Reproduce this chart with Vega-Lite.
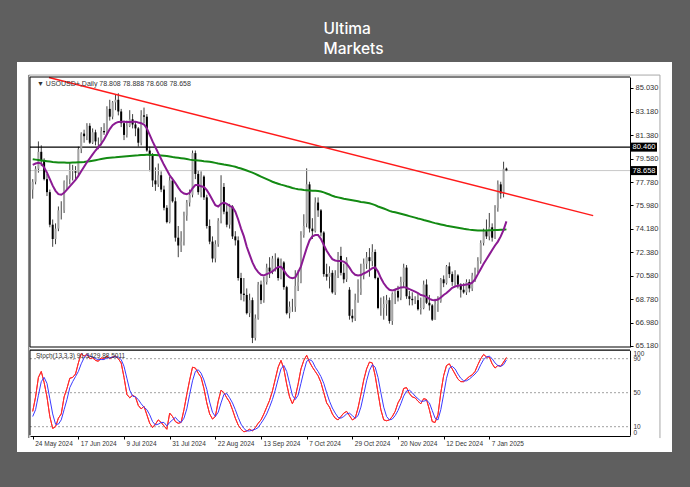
{
"$schema": "https://vega.github.io/schema/vega-lite/v6.json",
"width": 655, "height": 390,
"autosize": {"type": "none"},
"padding": {"left": 17, "top": 62, "right": 18, "bottom": 35},
"background": "#5f5f5f",
"title": {"text": ["Ultima", "Markets"], "color": "#ffffff", "fontSize": 15.5, "font": "Inter", "fontWeight": 500, "anchor": "middle", "align": "left", "dx": -21, "baseline": "bottom", "offset": -10, "lineHeight": 20},
"config": {
  "view": {"fill": "#ffffff", "stroke": null},
  "axis": {"labelFont": "Liberation Sans Narrow, Liberation Sans, sans-serif", "labelColor": "#333333", "grid": false, "domainColor": "#000000", "tickColor": "#000000"},
  "text": {"font": "Liberation Sans Narrow, Liberation Sans, sans-serif"}
},
"datasets": {
  "bars": [
{"i":0,"d":"2024-05-24","o":77.2,"h":78.0,"l":76.5,"c":77.8,"m1":79.1,"m2":79.53,"k":28,"sd":22},
{"i":1,"d":"2024-05-27","o":77.8,"h":79.0,"l":77.6,"c":78.8,"m1":79.2,"m2":79.5,"k":45,"sd":30},
{"i":2,"d":"2024-05-28","o":78.8,"h":80.9,"l":78.5,"c":80.1,"m1":79.25,"m2":79.47,"k":68,"sd":47},
{"i":3,"d":"2024-05-29","o":80.1,"h":80.6,"l":79.0,"c":79.4,"m1":79.2,"m2":79.44,"k":75,"sd":63},
{"i":4,"d":"2024-05-30","o":79.4,"h":79.6,"l":77.9,"c":78.0,"m1":78.9,"m2":79.41,"k":62,"sd":68},
{"i":5,"d":"2024-05-31","o":78.0,"h":78.4,"l":76.7,"c":77.0,"m1":78.5,"m2":79.38,"k":45,"sd":61},
{"i":6,"d":"2024-06-03","o":77.0,"h":77.2,"l":74.3,"c":74.5,"m1":78.0,"m2":79.35,"k":22,"sd":43},
{"i":7,"d":"2024-06-04","o":74.5,"h":74.9,"l":72.8,"c":73.4,"m1":77.5,"m2":79.32,"k":8,"sd":25},
{"i":8,"d":"2024-06-05","o":73.4,"h":74.6,"l":73.0,"c":74.2,"m1":77.1,"m2":79.3,"k":10,"sd":13},
{"i":9,"d":"2024-06-06","o":74.2,"h":75.9,"l":74.0,"c":75.6,"m1":76.85,"m2":79.28,"k":20,"sd":13},
{"i":10,"d":"2024-06-07","o":75.6,"h":76.3,"l":74.9,"c":75.6,"m1":76.8,"m2":79.27,"k":25,"sd":18},
{"i":11,"d":"2024-06-10","o":75.6,"h":77.9,"l":75.4,"c":77.8,"m1":76.95,"m2":79.27,"k":45,"sd":30},
{"i":12,"d":"2024-06-11","o":77.8,"h":78.3,"l":77.2,"c":78.0,"m1":77.2,"m2":79.26,"k":55,"sd":42},
{"i":13,"d":"2024-06-12","o":78.0,"h":79.3,"l":77.6,"c":78.6,"m1":77.45,"m2":79.26,"k":67,"sd":56},
{"i":14,"d":"2024-06-13","o":78.6,"h":79.1,"l":77.9,"c":78.6,"m1":77.7,"m2":79.27,"k":68,"sd":63},
{"i":15,"d":"2024-06-14","o":78.6,"h":79.0,"l":78.0,"c":78.5,"m1":77.95,"m2":79.28,"k":72,"sd":69},
{"i":16,"d":"2024-06-17","o":78.5,"h":80.5,"l":78.2,"c":80.3,"m1":78.25,"m2":79.29,"k":85,"sd":75},
{"i":17,"d":"2024-06-18","o":80.3,"h":81.6,"l":80.0,"c":81.5,"m1":78.6,"m2":79.3,"k":96,"sd":84},
{"i":18,"d":"2024-06-19","o":81.5,"h":81.8,"l":80.8,"c":81.3,"m1":78.95,"m2":79.32,"k":93,"sd":91},
{"i":19,"d":"2024-06-20","o":81.3,"h":82.3,"l":81.0,"c":82.1,"m1":79.3,"m2":79.35,"k":95,"sd":95},
{"i":20,"d":"2024-06-21","o":82.1,"h":82.3,"l":80.7,"c":80.8,"m1":79.6,"m2":79.38,"k":90,"sd":93},
{"i":21,"d":"2024-06-24","o":80.8,"h":81.9,"l":80.7,"c":81.6,"m1":79.9,"m2":79.42,"k":91,"sd":92},
{"i":22,"d":"2024-06-25","o":81.6,"h":81.8,"l":80.6,"c":80.9,"m1":80.2,"m2":79.46,"k":88,"sd":90},
{"i":23,"d":"2024-06-26","o":80.9,"h":81.2,"l":80.3,"c":80.9,"m1":80.45,"m2":79.5,"k":87,"sd":89},
{"i":24,"d":"2024-06-27","o":80.9,"h":82.0,"l":80.6,"c":81.7,"m1":80.7,"m2":79.54,"k":91,"sd":89},
{"i":25,"d":"2024-06-28","o":81.7,"h":82.3,"l":81.4,"c":81.6,"m1":81.05,"m2":79.58,"k":90,"sd":89},
{"i":26,"d":"2024-07-01","o":81.6,"h":83.6,"l":81.4,"c":83.4,"m1":81.45,"m2":79.62,"k":93,"sd":91},
{"i":27,"d":"2024-07-02","o":83.4,"h":84.1,"l":82.5,"c":82.8,"m1":81.85,"m2":79.65,"k":90,"sd":91},
{"i":28,"d":"2024-07-03","o":82.8,"h":84.0,"l":82.6,"c":83.9,"m1":82.15,"m2":79.67,"k":92,"sd":92},
{"i":29,"d":"2024-07-04","o":83.9,"h":84.5,"l":83.3,"c":84.1,"m1":82.3,"m2":79.68,"k":93,"sd":92},
{"i":30,"d":"2024-07-05","o":84.1,"h":84.6,"l":82.9,"c":83.2,"m1":82.4,"m2":79.7,"k":90,"sd":92},
{"i":31,"d":"2024-07-08","o":83.2,"h":83.4,"l":82.0,"c":82.3,"m1":82.42,"m2":79.72,"k":85,"sd":89},
{"i":32,"d":"2024-07-09","o":82.3,"h":82.5,"l":81.0,"c":81.4,"m1":82.42,"m2":79.74,"k":68,"sd":81},
{"i":33,"d":"2024-07-10","o":81.4,"h":82.5,"l":81.2,"c":82.1,"m1":82.4,"m2":79.76,"k":48,"sd":67},
{"i":34,"d":"2024-07-11","o":82.1,"h":83.3,"l":82.0,"c":82.6,"m1":82.4,"m2":79.78,"k":44,"sd":53},
{"i":35,"d":"2024-07-12","o":82.6,"h":83.0,"l":81.9,"c":82.2,"m1":82.42,"m2":79.8,"k":47,"sd":46},
{"i":36,"d":"2024-07-15","o":82.2,"h":82.4,"l":81.3,"c":81.9,"m1":82.42,"m2":79.82,"k":45,"sd":45},
{"i":37,"d":"2024-07-16","o":81.9,"h":82.0,"l":80.5,"c":80.8,"m1":82.35,"m2":79.83,"k":35,"sd":42},
{"i":38,"d":"2024-07-17","o":80.8,"h":83.3,"l":80.6,"c":82.9,"m1":82.3,"m2":79.85,"k":31,"sd":37},
{"i":39,"d":"2024-07-18","o":82.9,"h":83.5,"l":82.3,"c":82.8,"m1":82.2,"m2":79.86,"k":34,"sd":33},
{"i":40,"d":"2024-07-19","o":82.8,"h":83.0,"l":80.1,"c":80.2,"m1":81.9,"m2":79.87,"k":24,"sd":30},
{"i":41,"d":"2024-07-22","o":80.2,"h":80.5,"l":78.6,"c":79.8,"m1":81.4,"m2":79.87,"k":14,"sd":24},
{"i":42,"d":"2024-07-23","o":79.8,"h":80.0,"l":77.4,"c":77.9,"m1":80.9,"m2":79.86,"k":9,"sd":16},
{"i":43,"d":"2024-07-24","o":77.9,"h":78.9,"l":77.1,"c":77.6,"m1":80.45,"m2":79.85,"k":13,"sd":12},
{"i":44,"d":"2024-07-25","o":77.6,"h":79.2,"l":77.4,"c":78.3,"m1":80.0,"m2":79.84,"k":18,"sd":13},
{"i":45,"d":"2024-07-26","o":78.3,"h":78.6,"l":77.0,"c":77.2,"m1":79.55,"m2":79.82,"k":15,"sd":15},
{"i":46,"d":"2024-07-29","o":77.2,"h":77.5,"l":75.6,"c":75.8,"m1":79.1,"m2":79.8,"k":11,"sd":15},
{"i":47,"d":"2024-07-30","o":75.8,"h":76.0,"l":74.6,"c":74.7,"m1":78.7,"m2":79.78,"k":7,"sd":11},
{"i":48,"d":"2024-07-31","o":74.7,"h":78.2,"l":74.6,"c":77.9,"m1":78.3,"m2":79.74,"k":26,"sd":15},
{"i":49,"d":"2024-08-01","o":77.9,"h":78.1,"l":76.2,"c":76.3,"m1":78.0,"m2":79.7,"k":22,"sd":18},
{"i":50,"d":"2024-08-02","o":76.3,"h":76.6,"l":73.2,"c":73.5,"m1":77.7,"m2":79.67,"k":16,"sd":21},
{"i":51,"d":"2024-08-05","o":73.5,"h":74.4,"l":72.0,"c":72.9,"m1":77.35,"m2":79.64,"k":14,"sd":17},
{"i":52,"d":"2024-08-06","o":72.9,"h":74.0,"l":72.4,"c":73.2,"m1":77.05,"m2":79.61,"k":15,"sd":15},
{"i":53,"d":"2024-08-07","o":73.2,"h":75.5,"l":72.9,"c":75.2,"m1":76.9,"m2":79.58,"k":30,"sd":20},
{"i":54,"d":"2024-08-08","o":75.2,"h":76.4,"l":74.8,"c":76.2,"m1":76.85,"m2":79.55,"k":48,"sd":31},
{"i":55,"d":"2024-08-09","o":76.2,"h":77.2,"l":75.9,"c":76.8,"m1":76.95,"m2":79.5,"k":65,"sd":48},
{"i":56,"d":"2024-08-12","o":76.8,"h":80.2,"l":76.6,"c":80.0,"m1":77.3,"m2":79.47,"k":80,"sd":64},
{"i":57,"d":"2024-08-13","o":80.0,"h":80.2,"l":78.0,"c":78.4,"m1":77.55,"m2":79.45,"k":79,"sd":75},
{"i":58,"d":"2024-08-14","o":78.4,"h":78.7,"l":76.8,"c":77.0,"m1":77.55,"m2":79.43,"k":73,"sd":77},
{"i":59,"d":"2024-08-15","o":77.0,"h":78.6,"l":76.6,"c":78.2,"m1":77.45,"m2":79.41,"k":68,"sd":73},
{"i":60,"d":"2024-08-16","o":78.2,"h":78.3,"l":76.4,"c":76.6,"m1":77.4,"m2":79.38,"k":55,"sd":65},
{"i":61,"d":"2024-08-19","o":76.6,"h":76.8,"l":74.2,"c":74.4,"m1":77.15,"m2":79.36,"k":38,"sd":54},
{"i":62,"d":"2024-08-20","o":74.4,"h":74.9,"l":73.0,"c":73.2,"m1":76.8,"m2":79.34,"k":25,"sd":39},
{"i":63,"d":"2024-08-21","o":73.2,"h":73.6,"l":71.6,"c":71.9,"m1":76.4,"m2":79.3,"k":19,"sd":27},
{"i":64,"d":"2024-08-22","o":71.9,"h":73.3,"l":71.6,"c":73.0,"m1":76.0,"m2":79.25,"k":22,"sd":22},
{"i":65,"d":"2024-08-23","o":73.0,"h":75.0,"l":72.8,"c":74.8,"m1":75.9,"m2":79.2,"k":40,"sd":27},
{"i":66,"d":"2024-08-26","o":74.8,"h":78.3,"l":74.6,"c":77.4,"m1":76.1,"m2":79.16,"k":53,"sd":38},
{"i":67,"d":"2024-08-27","o":77.4,"h":77.7,"l":75.3,"c":75.5,"m1":76.2,"m2":79.12,"k":50,"sd":48},
{"i":68,"d":"2024-08-28","o":75.5,"h":76.0,"l":74.3,"c":74.5,"m1":76.1,"m2":79.09,"k":44,"sd":49},
{"i":69,"d":"2024-08-29","o":74.5,"h":76.1,"l":74.2,"c":75.9,"m1":75.95,"m2":79.05,"k":39,"sd":44},
{"i":70,"d":"2024-08-30","o":75.9,"h":76.0,"l":73.4,"c":73.6,"m1":75.85,"m2":79.0,"k":30,"sd":38},
{"i":71,"d":"2024-09-02","o":73.6,"h":74.0,"l":72.9,"c":73.3,"m1":75.5,"m2":78.95,"k":20,"sd":30},
{"i":72,"d":"2024-09-03","o":73.3,"h":73.6,"l":70.2,"c":70.4,"m1":74.9,"m2":78.88,"k":12,"sd":21},
{"i":73,"d":"2024-09-04","o":70.4,"h":70.8,"l":68.7,"c":69.2,"m1":74.2,"m2":78.82,"k":7,"sd":13},
{"i":74,"d":"2024-09-05","o":69.2,"h":70.4,"l":68.6,"c":69.1,"m1":73.6,"m2":78.74,"k":4,"sd":8},
{"i":75,"d":"2024-09-06","o":69.1,"h":69.6,"l":67.6,"c":67.7,"m1":72.8,"m2":78.66,"k":5,"sd":5},
{"i":76,"d":"2024-09-09","o":67.7,"h":69.2,"l":67.4,"c":68.7,"m1":72.2,"m2":78.58,"k":7,"sd":5},
{"i":77,"d":"2024-09-10","o":68.7,"h":68.9,"l":65.4,"c":65.8,"m1":71.6,"m2":78.5,"k":5,"sd":6},
{"i":78,"d":"2024-09-11","o":65.8,"h":67.6,"l":65.6,"c":67.3,"m1":71.15,"m2":78.4,"k":9,"sd":7},
{"i":79,"d":"2024-09-12","o":67.3,"h":70.1,"l":67.2,"c":69.9,"m1":70.85,"m2":78.3,"k":14,"sd":9},
{"i":80,"d":"2024-09-13","o":69.9,"h":70.2,"l":68.4,"c":68.7,"m1":70.65,"m2":78.2,"k":18,"sd":14},
{"i":81,"d":"2024-09-16","o":68.7,"h":70.5,"l":68.5,"c":70.1,"m1":70.6,"m2":78.1,"k":25,"sd":19},
{"i":82,"d":"2024-09-17","o":70.1,"h":71.5,"l":69.9,"c":71.2,"m1":70.7,"m2":78.0,"k":33,"sd":25},
{"i":83,"d":"2024-09-18","o":71.2,"h":72.0,"l":70.4,"c":70.9,"m1":70.8,"m2":77.9,"k":41,"sd":33},
{"i":84,"d":"2024-09-19","o":70.9,"h":72.1,"l":70.7,"c":71.9,"m1":70.9,"m2":77.8,"k":52,"sd":42},
{"i":85,"d":"2024-09-20","o":71.9,"h":72.3,"l":70.9,"c":71.9,"m1":71.1,"m2":77.72,"k":66,"sd":53},
{"i":86,"d":"2024-09-23","o":71.9,"h":72.0,"l":70.2,"c":70.4,"m1":71.25,"m2":77.65,"k":80,"sd":66},
{"i":87,"d":"2024-09-24","o":70.4,"h":71.9,"l":70.3,"c":71.6,"m1":71.27,"m2":77.58,"k":88,"sd":78},
{"i":88,"d":"2024-09-25","o":71.6,"h":71.7,"l":69.5,"c":69.7,"m1":71.0,"m2":77.52,"k":78,"sd":82},
{"i":89,"d":"2024-09-26","o":69.7,"h":69.8,"l":67.6,"c":67.7,"m1":70.65,"m2":77.45,"k":60,"sd":75},
{"i":90,"d":"2024-09-27","o":67.7,"h":68.6,"l":67.3,"c":68.2,"m1":70.45,"m2":77.4,"k":45,"sd":61},
{"i":91,"d":"2024-09-30","o":68.2,"h":68.8,"l":67.8,"c":68.2,"m1":70.38,"m2":77.32,"k":37,"sd":47},
{"i":92,"d":"2024-10-01","o":68.2,"h":71.0,"l":67.8,"c":69.8,"m1":70.45,"m2":77.27,"k":45,"sd":42},
{"i":93,"d":"2024-10-02","o":69.8,"h":71.0,"l":69.4,"c":70.1,"m1":70.85,"m2":77.23,"k":60,"sd":47},
{"i":94,"d":"2024-10-03","o":70.1,"h":74.0,"l":70.0,"c":73.7,"m1":71.3,"m2":77.2,"k":78,"sd":61},
{"i":95,"d":"2024-10-04","o":73.7,"h":75.3,"l":73.5,"c":74.4,"m1":72.0,"m2":77.17,"k":88,"sd":75},
{"i":96,"d":"2024-10-07","o":74.6,"h":78.83,"l":74.3,"c":77.6,"m1":72.7,"m2":77.15,"k":94,"sd":87},
{"i":97,"d":"2024-10-08","o":77.6,"h":77.8,"l":73.9,"c":74.2,"m1":73.3,"m2":77.13,"k":86,"sd":89},
{"i":98,"d":"2024-10-09","o":74.2,"h":75.0,"l":73.4,"c":74.0,"m1":73.6,"m2":77.11,"k":80,"sd":87},
{"i":99,"d":"2024-10-10","o":74.0,"h":76.6,"l":73.9,"c":76.2,"m1":73.7,"m2":77.1,"k":75,"sd":80},
{"i":100,"d":"2024-10-11","o":76.2,"h":76.6,"l":75.1,"c":75.6,"m1":73.7,"m2":77.09,"k":70,"sd":75},
{"i":101,"d":"2024-10-14","o":75.6,"h":75.7,"l":73.6,"c":73.9,"m1":73.4,"m2":77.05,"k":62,"sd":69},
{"i":102,"d":"2024-10-15","o":73.9,"h":74.0,"l":70.5,"c":70.7,"m1":72.95,"m2":76.98,"k":50,"sd":61},
{"i":103,"d":"2024-10-16","o":70.7,"h":71.5,"l":70.2,"c":70.5,"m1":72.5,"m2":76.9,"k":38,"sd":50},
{"i":104,"d":"2024-10-17","o":70.5,"h":71.3,"l":69.6,"c":70.8,"m1":72.15,"m2":76.82,"k":33,"sd":40},
{"i":105,"d":"2024-10-18","o":70.8,"h":71.0,"l":69.2,"c":69.3,"m1":71.85,"m2":76.72,"k":25,"sd":32},
{"i":106,"d":"2024-10-21","o":69.3,"h":71.0,"l":69.1,"c":70.6,"m1":71.75,"m2":76.65,"k":20,"sd":26},
{"i":107,"d":"2024-10-22","o":70.6,"h":72.4,"l":70.4,"c":72.1,"m1":71.7,"m2":76.6,"k":18,"sd":21},
{"i":108,"d":"2024-10-23","o":72.1,"h":72.8,"l":70.6,"c":70.8,"m1":71.7,"m2":76.55,"k":22,"sd":20},
{"i":109,"d":"2024-10-24","o":70.8,"h":71.5,"l":70.0,"c":70.3,"m1":71.66,"m2":76.5,"k":26,"sd":22},
{"i":110,"d":"2024-10-25","o":70.3,"h":72.0,"l":70.1,"c":71.8,"m1":71.5,"m2":76.46,"k":28,"sd":25},
{"i":111,"d":"2024-10-28","o":69.5,"h":69.7,"l":67.2,"c":67.5,"m1":71.2,"m2":76.42,"k":23,"sd":26},
{"i":112,"d":"2024-10-29","o":67.5,"h":68.0,"l":67.0,"c":67.3,"m1":70.85,"m2":76.38,"k":18,"sd":23},
{"i":113,"d":"2024-10-30","o":67.3,"h":69.2,"l":67.1,"c":68.7,"m1":70.65,"m2":76.34,"k":20,"sd":20},
{"i":114,"d":"2024-10-31","o":68.7,"h":70.3,"l":68.5,"c":69.3,"m1":70.6,"m2":76.3,"k":32,"sd":23},
{"i":115,"d":"2024-11-01","o":69.3,"h":71.5,"l":69.1,"c":69.6,"m1":70.63,"m2":76.25,"k":48,"sd":33},
{"i":116,"d":"2024-11-04","o":70.6,"h":71.9,"l":70.3,"c":71.5,"m1":70.75,"m2":76.22,"k":65,"sd":48},
{"i":117,"d":"2024-11-05","o":71.5,"h":72.4,"l":71.1,"c":72.0,"m1":70.85,"m2":76.18,"k":78,"sd":64},
{"i":118,"d":"2024-11-06","o":72.0,"h":72.7,"l":70.5,"c":71.7,"m1":71.0,"m2":76.14,"k":86,"sd":76},
{"i":119,"d":"2024-11-07","o":71.7,"h":73.0,"l":71.3,"c":72.4,"m1":71.15,"m2":76.08,"k":85,"sd":83},
{"i":120,"d":"2024-11-08","o":72.4,"h":72.6,"l":70.3,"c":70.4,"m1":71.22,"m2":76.0,"k":70,"sd":80},
{"i":121,"d":"2024-11-11","o":70.4,"h":70.5,"l":68.0,"c":68.1,"m1":70.9,"m2":75.9,"k":50,"sd":68},
{"i":122,"d":"2024-11-12","o":68.1,"h":68.9,"l":67.5,"c":68.1,"m1":70.4,"m2":75.82,"k":30,"sd":50},
{"i":123,"d":"2024-11-13","o":68.1,"h":69.0,"l":67.2,"c":68.4,"m1":70.0,"m2":75.74,"k":18,"sd":33},
{"i":124,"d":"2024-11-14","o":68.4,"h":69.1,"l":67.5,"c":68.7,"m1":69.7,"m2":75.66,"k":17,"sd":22},
{"i":125,"d":"2024-11-15","o":68.7,"h":68.9,"l":66.9,"c":67.1,"m1":69.5,"m2":75.56,"k":18,"sd":18},
{"i":126,"d":"2024-11-18","o":67.1,"h":69.3,"l":66.8,"c":69.2,"m1":69.45,"m2":75.5,"k":22,"sd":19},
{"i":127,"d":"2024-11-19","o":69.2,"h":69.6,"l":68.4,"c":69.4,"m1":69.5,"m2":75.45,"k":28,"sd":23},
{"i":128,"d":"2024-11-20","o":69.4,"h":69.8,"l":68.6,"c":68.9,"m1":69.6,"m2":75.4,"k":38,"sd":29},
{"i":129,"d":"2024-11-21","o":68.9,"h":70.5,"l":68.7,"c":70.1,"m1":69.68,"m2":75.34,"k":44,"sd":37},
{"i":130,"d":"2024-11-22","o":70.1,"h":71.5,"l":69.7,"c":71.2,"m1":69.7,"m2":75.28,"k":55,"sd":46},
{"i":131,"d":"2024-11-25","o":71.2,"h":71.4,"l":68.8,"c":69.0,"m1":69.65,"m2":75.22,"k":56,"sd":52},
{"i":132,"d":"2024-11-26","o":69.0,"h":69.4,"l":68.3,"c":68.8,"m1":69.55,"m2":75.16,"k":49,"sd":53},
{"i":133,"d":"2024-11-27","o":68.8,"h":69.3,"l":68.3,"c":68.7,"m1":69.45,"m2":75.1,"k":45,"sd":50},
{"i":134,"d":"2024-11-28","o":68.7,"h":69.0,"l":68.4,"c":68.7,"m1":69.35,"m2":75.04,"k":44,"sd":46},
{"i":135,"d":"2024-11-29","o":68.7,"h":69.2,"l":67.9,"c":68.0,"m1":69.25,"m2":74.98,"k":40,"sd":43},
{"i":136,"d":"2024-12-02","o":68.0,"h":68.9,"l":67.6,"c":68.1,"m1":69.1,"m2":74.93,"k":37,"sd":40},
{"i":137,"d":"2024-12-03","o":68.1,"h":70.2,"l":68.0,"c":69.9,"m1":69.05,"m2":74.86,"k":43,"sd":40},
{"i":138,"d":"2024-12-04","o":69.9,"h":70.3,"l":68.4,"c":68.5,"m1":68.95,"m2":74.8,"k":42,"sd":41},
{"i":139,"d":"2024-12-05","o":68.5,"h":69.1,"l":67.9,"c":68.3,"m1":68.8,"m2":74.74,"k":30,"sd":38},
{"i":140,"d":"2024-12-06","o":68.3,"h":68.4,"l":67.1,"c":67.2,"m1":68.72,"m2":74.68,"k":16,"sd":29},
{"i":141,"d":"2024-12-09","o":67.2,"h":68.8,"l":67.2,"c":68.4,"m1":68.7,"m2":74.62,"k":15,"sd":20},
{"i":142,"d":"2024-12-10","o":68.4,"h":69.0,"l":67.8,"c":68.6,"m1":68.75,"m2":74.57,"k":24,"sd":18},
{"i":143,"d":"2024-12-11","o":68.6,"h":70.4,"l":68.5,"c":70.3,"m1":68.9,"m2":74.52,"k":50,"sd":30},
{"i":144,"d":"2024-12-12","o":70.3,"h":70.6,"l":69.7,"c":70.0,"m1":69.1,"m2":74.47,"k":70,"sd":48},
{"i":145,"d":"2024-12-13","o":70.0,"h":71.4,"l":69.9,"c":71.3,"m1":69.25,"m2":74.42,"k":82,"sd":67},
{"i":146,"d":"2024-12-16","o":71.3,"h":71.6,"l":70.4,"c":70.7,"m1":69.45,"m2":74.38,"k":84,"sd":79},
{"i":147,"d":"2024-12-17","o":70.7,"h":70.9,"l":69.8,"c":70.1,"m1":69.65,"m2":74.34,"k":78,"sd":81},
{"i":148,"d":"2024-12-18","o":70.1,"h":71.0,"l":69.8,"c":70.6,"m1":69.75,"m2":74.3,"k":72,"sd":78},
{"i":149,"d":"2024-12-19","o":70.6,"h":70.7,"l":69.6,"c":69.9,"m1":69.8,"m2":74.26,"k":66,"sd":72},
{"i":150,"d":"2024-12-20","o":69.9,"h":70.0,"l":68.9,"c":69.5,"m1":69.85,"m2":74.22,"k":63,"sd":67},
{"i":151,"d":"2024-12-23","o":69.5,"h":70.0,"l":69.2,"c":69.3,"m1":69.86,"m2":74.18,"k":63,"sd":64},
{"i":152,"d":"2024-12-24","o":69.3,"h":70.3,"l":69.1,"c":70.1,"m1":69.9,"m2":74.15,"k":66,"sd":64},
{"i":153,"d":"2024-12-26","o":70.1,"h":70.3,"l":69.3,"c":69.6,"m1":69.94,"m2":74.12,"k":69,"sd":66},
{"i":154,"d":"2024-12-27","o":69.6,"h":70.8,"l":69.4,"c":70.6,"m1":70.05,"m2":74.1,"k":71,"sd":69},
{"i":155,"d":"2024-12-30","o":70.6,"h":71.2,"l":70.1,"c":71.0,"m1":70.3,"m2":74.08,"k":75,"sd":72},
{"i":156,"d":"2024-12-31","o":71.0,"h":72.0,"l":70.8,"c":71.7,"m1":70.7,"m2":74.06,"k":83,"sd":76},
{"i":157,"d":"2025-01-02","o":71.7,"h":73.3,"l":71.5,"c":73.1,"m1":71.1,"m2":74.05,"k":90,"sd":83},
{"i":158,"d":"2025-01-03","o":73.1,"h":74.2,"l":72.9,"c":74.0,"m1":71.5,"m2":74.05,"k":95,"sd":89},
{"i":159,"d":"2025-01-06","o":74.0,"h":74.9,"l":73.4,"c":73.6,"m1":71.85,"m2":74.06,"k":92,"sd":92},
{"i":160,"d":"2025-01-07","o":73.6,"h":75.4,"l":73.3,"c":74.3,"m1":72.2,"m2":74.07,"k":92,"sd":93},
{"i":161,"d":"2025-01-08","o":74.3,"h":74.6,"l":73.2,"c":73.5,"m1":72.55,"m2":74.08,"k":84,"sd":90},
{"i":162,"d":"2025-01-10","o":73.5,"h":76.0,"l":73.4,"c":75.8,"m1":72.9,"m2":74.09,"k":79,"sd":85},
{"i":163,"d":"2025-01-13","o":75.8,"h":77.9,"l":75.5,"c":77.6,"m1":73.2,"m2":74.1,"k":82,"sd":82},
{"i":164,"d":"2025-01-14","o":77.6,"h":77.8,"l":76.5,"c":76.9,"m1":73.6,"m2":74.11,"k":81,"sd":81},
{"i":165,"d":"2025-01-15","o":76.9,"h":79.34,"l":76.6,"c":78.8,"m1":74.1,"m2":74.12,"k":86,"sd":83},
{"i":166,"d":"2025-01-16","o":78.808,"h":78.888,"l":78.608,"c":78.658,"m1":74.75,"m2":74.14,"k":91.34,"sd":88.5}
  ],
  "trend": [{"i": 5.7, "p": 85.81}, {"i": 196.4, "p": 75.2}],
  "lines": [{"p": 80.46, "t": "80.460", "kind": "h"}, {"p": 78.658, "t": "78.658", "kind": "bid"}],
  "lv": [{"v": 10}, {"v": 50}, {"v": 90}],
  "hdr": [{"t": "▼ USOUSD+,Daily  78.808 78.888 78.608 78.658", "s": "Stoch(13,3,3) 91.3429 88.5011"}],
  "one": [{}]
},
"layer": [
 {"layer": [
  {"data": {"name": "bars"}, "mark": {"type": "rule", "color": "#404040", "strokeWidth": 1},
   "encoding": {
    "x": {"field": "i", "type": "quantitative", "scale": {"domain": [-0.95, 209.3], "range": [13, 613], "nice": false, "zero": false, "padding": 0}},
    "y": {"field": "l", "type": "quantitative", "scale": {"domain": [65.1, 85.85], "range": [285, 15], "nice": false, "zero": false, "padding": 0},
          "axis": {"orient": "right", "offset": -42, "title": null, "values": [85.03, 83.18, 81.38, 79.58, 77.78, 75.98, 74.18, 72.38, 70.58, 68.78, 66.98, 65.18], "tickCount": 40, "format": ".3f", "tickSize": 3, "labelFontSize": 7.5, "labelPadding": 2, "labelFlush": false, "labelOverlap": false, "domain": true, "grid": false}},
    "y2": {"field": "h"}}},
  {"data": {"name": "one"}, "mark": {"type": "rule", "color": "#a8a8a8", "strokeWidth": 1},
   "encoding": {"y": {"datum": 86.0, "type": "quantitative"}, "x": {"datum": -1.4, "type": "quantitative"}, "x2": {"datum": 219.8}}},
  {"data": {"name": "one"}, "mark": {"type": "rule", "color": "#a8a8a8", "strokeWidth": 1},
   "encoding": {"x": {"datum": 219.8, "type": "quantitative"}, "y": {"datum": 86.0, "type": "quantitative"}, "y2": {"datum": 58.1}}},
  {"data": {"name": "one"}, "mark": {"type": "rule", "color": "#8a8a8a", "strokeWidth": 1.5},
   "encoding": {"x": {"datum": -1.4, "type": "quantitative"}, "y": {"datum": 86.0, "type": "quantitative"}, "y2": {"datum": 58.1}}},
  {"data": {"name": "lines"}, "mark": {"type": "rule"},
   "encoding": {"y": {"field": "p", "type": "quantitative"}, "x": {"datum": -0.95, "type": "quantitative"}, "x2": {"datum": 209.3},
    "color": {"condition": {"test": "datum.kind == 'h'", "value": "#000000"}, "value": "#c8c8c8"},
    "strokeWidth": {"condition": {"test": "datum.kind == 'h'", "value": 1.3}, "value": 1}}},
  {"data": {"name": "bars"}, "mark": {"type": "bar", "size": 2},
   "encoding": {"x": {"field": "i", "type": "quantitative"}, "y": {"field": "o", "type": "quantitative"}, "y2": {"field": "c"},
    "color": {"condition": {"test": "datum.c >= datum.o", "value": "#a4a4a4"}, "value": "#000000"}}},
  {"data": {"name": "bars"}, "mark": {"type": "line", "color": "#138a13", "strokeWidth": 2},
   "encoding": {"x": {"field": "i", "type": "quantitative"}, "y": {"field": "m2", "type": "quantitative"}}},
  {"data": {"name": "bars"}, "mark": {"type": "line", "color": "#8b1a93", "strokeWidth": 2},
   "encoding": {"x": {"field": "i", "type": "quantitative"}, "y": {"field": "m1", "type": "quantitative"}}},
  {"data": {"name": "trend"}, "mark": {"type": "line", "color": "#ff1a1a", "strokeWidth": 1.4},
   "encoding": {"x": {"field": "i", "type": "quantitative"}, "y": {"field": "p", "type": "quantitative"}}},
  {"data": {"name": "one"}, "mark": {"type": "rule", "color": "#000000", "strokeWidth": 1},
   "encoding": {"y": {"datum": 85.85, "type": "quantitative"}, "x": {"datum": -0.95, "type": "quantitative"}, "x2": {"datum": 209.3}}},
  {"data": {"name": "one"}, "mark": {"type": "rule", "color": "#000000", "strokeWidth": 1.2},
   "encoding": {"y": {"datum": 65.1, "type": "quantitative"}, "x": {"datum": -0.95, "type": "quantitative"}, "x2": {"datum": 209.3}}},
  {"data": {"name": "one"}, "mark": {"type": "rule", "color": "#000000", "strokeWidth": 1},
   "encoding": {"x": {"datum": -0.95, "type": "quantitative"}, "y": {"datum": 65.1, "type": "quantitative"}, "y2": {"datum": 85.85}}},
  {"data": {"name": "lines"}, "mark": {"type": "tick", "orient": "horizontal", "size": 26, "thickness": 9, "xOffset": 14, "color": "#000000", "opacity": 1},
   "encoding": {"x": {"datum": 209.3, "type": "quantitative"}, "y": {"field": "p", "type": "quantitative"}}},
  {"data": {"name": "lines"}, "mark": {"type": "text", "color": "#ffffff", "fontSize": 7.5, "xOffset": 14, "align": "center", "baseline": "middle"},
   "encoding": {"x": {"datum": 209.3, "type": "quantitative"}, "y": {"field": "p", "type": "quantitative"}, "text": {"field": "t"}}},
  {"data": {"name": "hdr"}, "mark": {"type": "text", "color": "#333333", "fontSize": 7, "xOffset": 7, "yOffset": 7, "align": "left", "baseline": "middle"},
   "encoding": {"x": {"datum": -0.95, "type": "quantitative"}, "y": {"datum": 85.85, "type": "quantitative"}, "text": {"field": "t"}}}
 ]},
 {"layer": [
  {"data": {"name": "bars"}, "mark": {"type": "line", "color": "#ff2b2b", "strokeWidth": 1},
   "encoding": {"x": {"field": "i", "type": "quantitative",
      "axis": {"orient": "bottom", "offset": -16, "title": null, "values": [0, 16, 32, 48, 64, 80, 96, 112, 128, 144, 160], "tickCount": 40, "labelExpr": "['24 May 2024','17 Jun 2024','9 Jul 2024','31 Jul 2024','22 Aug 2024','13 Sep 2024','7 Oct 2024','29 Oct 2024','20 Nov 2024','12 Dec 2024','7 Jan 2025'][round(datum.value/16)]", "labelAlign": "left", "labelBaseline": "top", "labelPadding": 1, "labelOffset": 2, "tickSize": 3, "labelFontSize": 6.5, "labelFlush": false, "labelOverlap": false, "domain": true, "grid": false}},
    "y": {"field": "k", "type": "quantitative", "scale": {"domain": [0, 100], "range": [373.2, 288.2], "nice": false, "zero": false, "padding": 0},
          "axis": {"orient": "right", "offset": -42, "title": null, "values": [0, 10, 50, 90, 100], "tickCount": 40, "tickSize": 0, "labelFontSize": 6.5, "labelPadding": 3, "labelFlush": true, "labelOverlap": false, "domain": true, "grid": false}}}},
  {"data": {"name": "lv"}, "mark": {"type": "rule", "color": "#a0a0a0", "strokeDash": [2, 2], "strokeWidth": 1},
   "encoding": {"y": {"field": "v", "type": "quantitative"}, "x": {"datum": -0.95, "type": "quantitative"}, "x2": {"datum": 209.3}}},
  {"data": {"name": "bars"}, "mark": {"type": "line", "color": "#ff2b2b", "strokeWidth": 1},
   "encoding": {"x": {"field": "i", "type": "quantitative"}, "y": {"field": "k", "type": "quantitative"}}},
  {"data": {"name": "bars"}, "mark": {"type": "line", "color": "#3a3aff", "strokeWidth": 1},
   "encoding": {"x": {"field": "i", "type": "quantitative"}, "y": {"field": "sd", "type": "quantitative"}}},
  {"data": {"name": "one"}, "mark": {"type": "rule", "color": "#000000", "strokeWidth": 1.2},
   "encoding": {"y": {"datum": 100, "type": "quantitative"}, "x": {"datum": -0.95, "type": "quantitative"}, "x2": {"datum": 209.3}}},
  {"data": {"name": "one"}, "mark": {"type": "rule", "color": "#000000", "strokeWidth": 1},
   "encoding": {"x": {"datum": -0.95, "type": "quantitative"}, "y": {"datum": 0, "type": "quantitative"}, "y2": {"datum": 100}}},
  {"data": {"name": "hdr"}, "mark": {"type": "text", "color": "#333333", "fontSize": 6.5, "xOffset": 6, "yOffset": 6, "align": "left", "baseline": "middle"},
   "encoding": {"x": {"datum": -0.95, "type": "quantitative"}, "y": {"datum": 100, "type": "quantitative"}, "text": {"field": "s"}}}
 ]}
],
"resolve": {"scale": {"y": "independent"}}
}
